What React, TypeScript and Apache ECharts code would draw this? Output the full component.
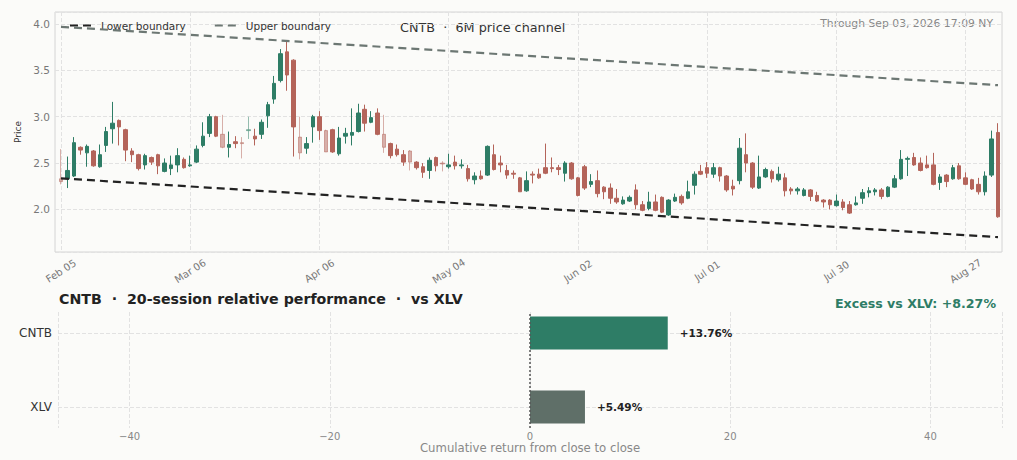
import React, { useEffect, useRef } from "react";
import * as echarts from "echarts";

// ---------- DATA ----------
const firstSession = "2026-02-05";
const lastSession = "2026-09-03";
const marketHolidays = ["2026-02-16", "2026-04-03", "2026-05-25", "2026-06-19", "2026-07-03"];

const opens = [
  2.33, 2.33, 2.36, 2.67, 2.61, 2.63, 2.46, 2.69, 2.87, 2.96,
  2.86, 2.63, 2.59, 2.48, 2.56, 2.59, 2.41, 2.44, 2.48, 2.54,
  2.47, 2.51, 2.69, 2.82, 3.00, 2.81, 2.67, 2.73, 2.72, 2.85,
  2.79, 2.81, 3.01, 3.19, 3.39, 3.70, 3.61, 2.78, 2.66, 2.89,
  3.00, 2.85, 2.86, 2.60, 2.79, 2.80, 2.84, 3.08, 2.94, 3.04,
  2.81, 2.71, 2.65, 2.59, 2.63, 2.51, 2.46, 2.42, 2.56, 2.50,
  2.46, 2.51, 2.47, 2.44, 2.32, 2.36, 2.37, 2.59, 2.50, 2.42,
  2.39, 2.34, 2.20, 2.38, 2.38, 2.45, 2.45, 2.45, 2.39, 2.50,
  2.34, 2.46, 2.27, 2.31, 2.24, 2.23, 2.12, 2.06, 2.09, 2.21,
  2.05, 2.01, 2.08, 2.13, 1.94, 2.09, 2.14, 2.12, 2.26, 2.41,
  2.45, 2.38, 2.45, 2.36, 2.25, 2.31, 2.59, 2.50, 2.23, 2.35,
  2.41, 2.32, 2.34, 2.22, 2.20, 2.15, 2.21, 2.15, 2.10, 2.10,
  2.04, 2.08, 2.05, 2.05, 2.12, 2.18, 2.19, 2.21, 2.14, 2.24,
  2.33, 2.54, 2.56, 2.50, 2.48, 2.48, 2.29, 2.37, 2.33, 2.47,
  2.34, 2.32, 2.27, 2.19, 2.37, 2.83,
];
const closes = [
  2.30, 2.42, 2.72, 2.64, 2.68, 2.47, 2.59, 2.84, 2.93, 2.89,
  2.64, 2.59, 2.44, 2.58, 2.51, 2.47, 2.50, 2.48, 2.58, 2.45,
  2.48, 2.65, 2.79, 3.00, 2.79, 2.67, 2.70, 2.71, 2.71, 2.86,
  2.76, 2.94, 3.13, 3.36, 3.68, 3.45, 2.89, 2.61, 2.71, 3.00,
  2.85, 2.62, 2.62, 2.77, 2.82, 2.83, 3.04, 2.93, 2.99, 2.81,
  2.67, 2.58, 2.59, 2.51, 2.51, 2.45, 2.40, 2.53, 2.47, 2.49,
  2.48, 2.47, 2.48, 2.33, 2.36, 2.33, 2.68, 2.43, 2.48, 2.37,
  2.38, 2.19, 2.31, 2.37, 2.34, 2.39, 2.44, 2.43, 2.50, 2.33,
  2.15, 2.23, 2.30, 2.17, 2.19, 2.12, 2.08, 2.10, 2.13, 2.05,
  1.99, 2.08, 1.99, 1.97, 2.10, 2.13, 2.07, 2.19, 2.38, 2.38,
  2.39, 2.45, 2.36, 2.21, 2.22, 2.66, 2.50, 2.24, 2.35, 2.43,
  2.33, 2.38, 2.20, 2.20, 2.22, 2.21, 2.14, 2.09, 2.08, 2.05,
  2.09, 2.02, 1.96, 2.07, 2.18, 2.20, 2.21, 2.14, 2.24, 2.33,
  2.54, 2.55, 2.48, 2.42, 2.45, 2.27, 2.35, 2.30, 2.45, 2.33,
  2.27, 2.22, 2.19, 2.36, 2.76, 1.92,
];
const lows = [
  2.27, 2.23, 2.35, 2.59, 2.46, 2.46, 2.45, 2.62, 2.71, 2.69,
  2.52, 2.51, 2.42, 2.43, 2.48, 2.38, 2.40, 2.37, 2.40, 2.44,
  2.46, 2.50, 2.67, 2.78, 2.78, 2.66, 2.56, 2.66, 2.55, 2.76,
  2.69, 2.76, 2.88, 3.14, 3.37, 3.28, 2.57, 2.54, 2.60, 2.72,
  2.75, 2.62, 2.61, 2.58, 2.71, 2.69, 2.83, 2.84, 2.93, 2.80,
  2.61, 2.55, 2.57, 2.47, 2.42, 2.43, 2.34, 2.33, 2.41, 2.41,
  2.44, 2.43, 2.44, 2.30, 2.27, 2.32, 2.36, 2.42, 2.40, 2.33,
  2.33, 2.19, 2.19, 2.28, 2.33, 2.38, 2.40, 2.37, 2.30, 2.32,
  2.14, 2.21, 2.24, 2.13, 2.11, 2.06, 2.06, 2.05, 2.08, 2.00,
  1.98, 1.99, 1.98, 1.96, 1.93, 2.08, 2.05, 2.11, 2.16, 2.37,
  2.34, 2.34, 2.30, 2.19, 2.15, 2.27, 2.40, 2.22, 2.22, 2.34,
  2.29, 2.30, 2.14, 2.16, 2.16, 2.14, 2.09, 2.08, 2.02, 2.00,
  2.03, 1.99, 1.95, 2.04, 2.06, 2.13, 2.15, 2.11, 2.13, 2.23,
  2.32, 2.36, 2.47, 2.41, 2.44, 2.26, 2.21, 2.24, 2.32, 2.32,
  2.26, 2.21, 2.16, 2.15, 2.35, 1.91,
];
const highs = [
  2.65, 2.57, 2.78, 2.68, 2.70, 2.64, 2.70, 2.89, 3.16, 2.97,
  2.87, 2.66, 2.60, 2.60, 2.57, 2.60, 2.55, 2.58, 2.66, 2.56,
  2.58, 2.69, 2.94, 3.03, 3.01, 3.02, 2.84, 2.79, 2.78, 3.00,
  2.87, 2.97, 3.16, 3.44, 3.73, 3.82, 3.62, 3.00, 2.78, 3.02,
  3.06, 2.86, 2.87, 2.89, 2.88, 3.09, 3.14, 3.13, 3.06, 3.09,
  3.02, 2.72, 2.70, 2.64, 2.64, 2.52, 2.50, 2.56, 2.57, 2.52,
  2.60, 2.58, 2.54, 2.48, 2.40, 2.42, 2.69, 2.70, 2.58, 2.48,
  2.42, 2.35, 2.41, 2.41, 2.44, 2.71, 2.56, 2.48, 2.52, 2.51,
  2.35, 2.48, 2.38, 2.42, 2.25, 2.28, 2.22, 2.14, 2.15, 2.27,
  2.09, 2.19, 2.16, 2.14, 2.11, 2.17, 2.16, 2.31, 2.41, 2.48,
  2.51, 2.50, 2.46, 2.37, 2.32, 2.77, 2.82, 2.51, 2.58, 2.45,
  2.43, 2.46, 2.39, 2.24, 2.24, 2.23, 2.22, 2.19, 2.11, 2.11,
  2.16, 2.11, 2.09, 2.14, 2.22, 2.24, 2.23, 2.23, 2.25, 2.37,
  2.64, 2.57, 2.61, 2.56, 2.58, 2.61, 2.38, 2.38, 2.48, 2.50,
  2.40, 2.33, 2.34, 2.41, 2.85, 2.93,
];
// Thin-volume sessions, drawn faded in the reference
const fadedSessions = [0, 25, 28, 29, 37, 41, 50, 54, 59];

// Channel boundaries (value at first and last session)
const lowerBoundary = [2.335, 1.70];
const upperBoundary = [3.97, 3.34];

// Relative performance panel
const perfTickers = ["CNTB", "XLV"];
const perfReturns = [13.76, 5.49];

// ---------- HELPERS ----------
const MONTHS = ["Jan", "Feb", "Mar", "Apr", "May", "Jun", "Jul", "Aug", "Sep", "Oct", "Nov", "Dec"];
function tradingSessions(): string[] {
  const out: string[] = [];
  const d = new Date(firstSession + "T00:00:00Z");
  const end = new Date(lastSession + "T00:00:00Z");
  while (d.getTime() <= end.getTime()) {
    const iso = d.toISOString().slice(0, 10);
    const wd = d.getUTCDay();
    if (wd !== 0 && wd !== 6 && marketHolidays.indexOf(iso) < 0) {
      out.push(MONTHS[d.getUTCMonth()] + " " + String(d.getUTCDate()).padStart(2, "0"));
    }
    d.setUTCDate(d.getUTCDate() + 1);
  }
  return out;
}

const FONT = "'DejaVu Sans', Verdana, sans-serif";
const UP = "#2e7d66";
const DOWN = "#b4645a";
const GRID_LINE = "#e2e2e2";

export default function App() {
  const ref = useRef<HTMLDivElement>(null);

  useEffect(() => {
    document.body.style.margin = "0";
    document.body.style.background = "#fbfbf9";
    if (!ref.current) return;
    const chart = echarts.init(ref.current, null, { renderer: "svg" });
    const dates = tradingSessions();
    const n = dates.length;
    const candles = dates.map((_, i) => {
      const value = [opens[i], closes[i], lows[i], highs[i]];
      return fadedSessions.indexOf(i) >= 0 ? { value, itemStyle: { opacity: 0.5 } } : value;
    });
    const yMin = 1.54;
    const yMax = 4.13;
    const excess = perfReturns[0] - perfReturns[1];
    const fmtPct = (v: number) => (v >= 0 ? "+" : "−") + Math.abs(v).toFixed(2) + "%";
    const onlyHalf = (v: number) =>
      Math.abs(v * 2 - Math.round(v * 2)) < 1e-6 ? v.toFixed(1) : "";

    const option: any = {
      animation: false,
      backgroundColor: "#fbfbf9",
      textStyle: { fontFamily: FONT },
      legend: {
        data: ["Lower boundary", "Upper boundary"],
        left: 64,
        top: 15,
        itemWidth: 26,
        itemHeight: 10,
        itemGap: 28,
        itemStyle: { opacity: 0 },
        textStyle: { fontSize: 10.5, color: "#333", fontFamily: FONT },
      },
      graphic: [
        {
          type: "text",
          left: 400,
          top: 21,
          style: { text: "CNTB  ·  6M price channel", fontSize: 12.8, fill: "#333", fontFamily: FONT },
        },
        {
          type: "text",
          right: 24,
          top: 18,
          style: { text: "Through Sep 03, 2026 17:09 NY", fontSize: 10.8, fill: "#888", fontFamily: FONT },
        },
        {
          type: "text",
          left: 59,
          top: 292,
          style: {
            text: "CNTB  ·  20-session relative performance  ·  vs XLV",
            fontSize: 14.2,
            fontWeight: "bold",
            fill: "#222",
            fontFamily: FONT,
          },
        },
        {
          type: "text",
          right: 21,
          top: 297,
          style: {
            text: "Excess vs XLV: " + fmtPct(excess),
            fontSize: 12.6,
            fontWeight: "bold",
            fill: UP,
            fontFamily: FONT,
          },
        },
      ],
      grid: [
        { left: 55, right: 15, top: 12, bottom: 208, show: true, borderColor: "#d4d4d4", borderWidth: 1, containLabel: false },
        { left: 61, right: 19, top: 12, bottom: 208, containLabel: false },
        { left: 58, right: 15, top: 296, bottom: 16, containLabel: false },
        { left: 58, right: 15, top: 312, bottom: 32, containLabel: false },
      ],
      xAxis: [
        { type: "value", gridIndex: 0, min: 0, max: 1, show: false },
        {
          type: "category",
          gridIndex: 1,
          data: dates,
          boundaryGap: false,
          axisLine: { show: false },
          axisTick: { show: false },
          axisLabel: {
            interval: 19,
            rotate: 33,
            align: "center",
            verticalAlign: "middle",
            color: "#777",
            fontSize: 10,
            margin: 19,
            fontFamily: FONT,
          },
          splitLine: { show: true, interval: 19, lineStyle: { type: "dashed", color: GRID_LINE } },
        },
        { type: "value", gridIndex: 2, min: -47.15, max: 47.15, show: false },
        {
          type: "value",
          gridIndex: 3,
          min: -47.15,
          max: 47.15,
          axisLine: { show: false },
          axisTick: { show: false },
          axisLabel: {
            color: "#888",
            fontSize: 10,
            margin: 3,
            showMinLabel: false,
            showMaxLabel: false,
            fontFamily: FONT,
            formatter: (v: number) => (Math.abs(v % 20) < 1e-6 ? String(v).replace("-", "−") : ""),
          },
          splitLine: { show: true, lineStyle: { type: "dashed", color: GRID_LINE } },
          name: "Cumulative return from close to close",
          nameLocation: "middle",
          nameGap: 6,
          nameTextStyle: { color: "#888", fontSize: 11.7, fontFamily: FONT },
        },
      ],
      yAxis: [
        {
          type: "value",
          gridIndex: 0,
          min: yMin,
          max: yMax,
          axisLine: { show: false },
          axisTick: { show: false },
          axisLabel: {
            color: "#777",
            fontSize: 10.5,
            margin: 5,
            showMinLabel: false,
            showMaxLabel: false,
            formatter: onlyHalf,
            fontFamily: FONT,
          },
          splitLine: { show: true, lineStyle: { type: "dashed", color: GRID_LINE } },
          name: "Price",
          nameLocation: "middle",
          nameGap: 24,
          nameTextStyle: { color: "#333", fontSize: 9, fontFamily: FONT },
        },
        { type: "value", gridIndex: 1, min: yMin, max: yMax, show: false },
        {
          type: "category",
          gridIndex: 2,
          data: perfTickers,
          inverse: true,
          axisLine: { show: false },
          axisTick: { show: false },
          axisLabel: { color: "#333", fontSize: 12, margin: 6, fontFamily: FONT },
          splitLine: { show: false },
        },
        { type: "value", gridIndex: 3, min: -0.284, max: 1.284, show: false },
      ],
      series: [
        {
          type: "candlestick",
          name: "CNTB",
          xAxisIndex: 1,
          yAxisIndex: 1,
          data: candles,
          barWidth: 4,
          itemStyle: { color: UP, color0: DOWN, borderColor: UP, borderColor0: DOWN, borderWidth: 1 },
        },
        {
          type: "line",
          name: "Lower boundary",
          xAxisIndex: 1,
          yAxisIndex: 1,
          data: [
            [dates[0], lowerBoundary[0]],
            [dates[n - 1], lowerBoundary[1]],
          ],
          symbol: "none",
          color: "#222",
          lineStyle: { color: "#222", width: 2.2, type: [8, 5] },
          z: 5,
        },
        {
          type: "line",
          name: "Upper boundary",
          xAxisIndex: 1,
          yAxisIndex: 1,
          data: [
            [dates[0], upperBoundary[0]],
            [dates[n - 1], upperBoundary[1]],
          ],
          symbol: "none",
          color: "#6c7773",
          lineStyle: { color: "#6c7773", width: 2.2, type: [8, 5] },
          z: 5,
        },
        {
          type: "line",
          xAxisIndex: 3,
          yAxisIndex: 3,
          data: [],
          silent: true,
          z: 1,
          markLine: {
            silent: true,
            z: 1,
            symbol: ["none", "none"],
            label: { show: false },
            data: [
              { yAxis: 1, lineStyle: { type: "dashed", color: GRID_LINE, width: 1 } },
              { yAxis: 0, lineStyle: { type: "dashed", color: GRID_LINE, width: 1 } },
            ],
          },
        },
        {
          type: "bar",
          xAxisIndex: 2,
          yAxisIndex: 2,
          barWidth: 33,
          data: perfReturns.map((v, i) => ({
            value: v,
            itemStyle: { color: i === 0 ? UP : "#5f6f68" },
          })),
          label: {
            show: true,
            position: "right",
            distance: 12,
            fontSize: 10.5,
            fontWeight: "bold",
            color: "#222",
            fontFamily: FONT,
            formatter: (p: any) => fmtPct(p.value),
          },
          z: 6,
        },
        {
          type: "line",
          xAxisIndex: 3,
          yAxisIndex: 3,
          data: [],
          silent: true,
          z: 10,
          markLine: {
            silent: true,
            z: 10,
            symbol: ["none", "none"],
            label: { show: false },
            data: [{ xAxis: 0, lineStyle: { type: [2, 2], color: "#555", width: 1.5 } }],
          },
        },
      ],
    };
    chart.setOption(option);
    return () => chart.dispose();
  }, []);

  return <div ref={ref} style={{ width: 1017, height: 460 }} />;
}
